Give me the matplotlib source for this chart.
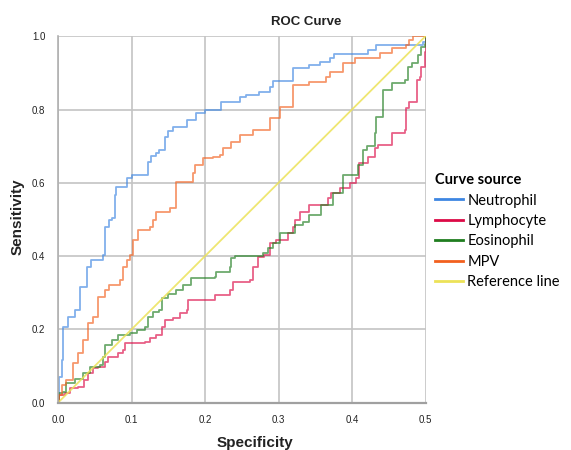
import matplotlib
matplotlib.use("Agg")
import matplotlib.pyplot as plt
from matplotlib.lines import Line2D

# ROC curves (steps: x where y jumps, new y)
neut_x = [0, 0.002, 0.006, 0.007, 0.014, 0.023, 0.030, 0.039, 0.045, 0.061, 0.064, 0.070,
          0.073, 0.077, 0.079, 0.094, 0.100, 0.122, 0.127, 0.134, 0.138, 0.145, 0.150, 0.156,
          0.175, 0.188, 0.200, 0.222, 0.247, 0.256, 0.274, 0.288, 0.293, 0.320, 0.342, 0.356,
          0.370, 0.376, 0.422, 0.433, 0.497, 0.500]
neut_y = [0, 0.071, 0.117, 0.207, 0.235, 0.253, 0.317, 0.371, 0.389, 0.403, 0.480, 0.498,
          0.503, 0.567, 0.589, 0.612, 0.621, 0.658, 0.672, 0.680, 0.690, 0.726, 0.740, 0.753,
          0.771, 0.790, 0.799, 0.821, 0.835, 0.840, 0.849, 0.862, 0.879, 0.912, 0.921, 0.929,
          0.940, 0.951, 0.961, 0.976, 0.985, 1.0]

lymph_x = [0, 0.001, 0.009, 0.016, 0.027, 0.036, 0.041, 0.048, 0.054, 0.064, 0.068, 0.082,
           0.088, 0.091, 0.118, 0.125, 0.134, 0.141, 0.145, 0.156, 0.166, 0.175, 0.177, 0.213,
           0.234, 0.238, 0.261, 0.265, 0.272, 0.280, 0.288, 0.297, 0.313, 0.320, 0.322, 0.329,
           0.342, 0.367, 0.371, 0.383, 0.397, 0.406, 0.410, 0.422, 0.431, 0.435, 0.454, 0.472,
           0.474, 0.478, 0.488, 0.492, 0.494, 0.499, 0.500]
lymph_y = [0, 0.020, 0.026, 0.039, 0.044, 0.062, 0.080, 0.094, 0.098, 0.112, 0.126, 0.135,
           0.144, 0.162, 0.166, 0.176, 0.185, 0.207, 0.226, 0.230, 0.244, 0.253, 0.280, 0.294,
           0.307, 0.330, 0.335, 0.371, 0.398, 0.403, 0.435, 0.444, 0.462, 0.480, 0.498, 0.521,
           0.539, 0.558, 0.571, 0.585, 0.599, 0.612, 0.653, 0.671, 0.694, 0.703, 0.735, 0.744,
           0.803, 0.821, 0.880, 0.890, 0.917, 0.958, 1.0]

eos_x = [0, 0.001, 0.007, 0.011, 0.023, 0.034, 0.043, 0.057, 0.061, 0.064, 0.073, 0.082,
         0.098, 0.107, 0.118, 0.122, 0.129, 0.138, 0.141, 0.150, 0.161, 0.170, 0.181, 0.213,
         0.215, 0.234, 0.236, 0.241, 0.279, 0.286, 0.293, 0.302, 0.322, 0.333, 0.342, 0.358,
         0.374, 0.388, 0.408, 0.415, 0.420, 0.431, 0.433, 0.442, 0.454, 0.472, 0.476, 0.481,
         0.490, 0.494, 0.499, 0.500]
eos_y = [0, 0.026, 0.030, 0.053, 0.066, 0.080, 0.098, 0.103, 0.126, 0.157, 0.171, 0.185,
         0.189, 0.198, 0.207, 0.235, 0.248, 0.253, 0.285, 0.297, 0.307, 0.321, 0.339, 0.344,
         0.357, 0.371, 0.394, 0.400, 0.408, 0.421, 0.435, 0.462, 0.485, 0.494, 0.512, 0.539,
         0.571, 0.621, 0.649, 0.690, 0.700, 0.735, 0.780, 0.853, 0.871, 0.880, 0.917, 0.926,
         0.949, 0.971, 0.980, 1.0]

mpv_x = [0, 0.001, 0.005, 0.011, 0.020, 0.027, 0.034, 0.041, 0.048, 0.054, 0.064, 0.070,
         0.084, 0.088, 0.094, 0.098, 0.102, 0.109, 0.125, 0.129, 0.134, 0.152, 0.161, 0.184,
         0.186, 0.197, 0.211, 0.220, 0.225, 0.236, 0.247, 0.265, 0.288, 0.302, 0.320, 0.342,
         0.365, 0.370, 0.388, 0.404, 0.438, 0.454, 0.474, 0.478, 0.483, 0.500]
mpv_y = [0, 0.020, 0.048, 0.062, 0.108, 0.135, 0.171, 0.217, 0.235, 0.289, 0.307, 0.321,
         0.335, 0.371, 0.390, 0.403, 0.444, 0.471, 0.480, 0.498, 0.521, 0.530, 0.603, 0.626,
         0.649, 0.667, 0.671, 0.676, 0.694, 0.712, 0.730, 0.744, 0.776, 0.808, 0.867, 0.876,
         0.889, 0.903, 0.926, 0.940, 0.953, 0.967, 0.976, 0.990, 1.0, 1.0]

ref_x = [0, 0.5]
ref_y = [0, 1.0]

labels = ["Neutrophil", "Lymphocyte", "Eosinophil", "MPV", "Reference line"]
colors = ["#3d86e2", "#dc0a46", "#1f7d1f", "#f2601e", "#ece258"]

fig = plt.figure(figsize=(5.71, 4.5), dpi=100)
ax = fig.add_axes([58 / 571, 47.3 / 450, 367.5 / 571, 366.5 / 450])

curves = [(neut_x, neut_y), (lymph_x, lymph_y), (eos_x, eos_y), (mpv_x, mpv_y)]
for (cx, cy), c in zip(curves, colors[:4]):
    ax.plot(cx, cy, drawstyle="steps-post", color=c, lw=1.3, alpha=0.65)
ax.plot(ref_x, ref_y, color=colors[4], lw=1.3, alpha=0.85)

ax.set_xlim(0, 0.5)
ax.set_ylim(0, 1.0)
ax.set_xticks([0, 0.1, 0.2, 0.3, 0.4, 0.5])
ax.set_yticks([0, 0.2, 0.4, 0.6, 0.8, 1.0])
ax.set_xticklabels(["0.0", "0.1", "0.2", "0.3", "0.4", "0.5"])
ax.set_yticklabels(["0.0", "0.2", "0.4", "0.6", "0.8", "1.0"])
ax.tick_params(length=0, labelsize=7, pad=9, colors="#222222")
for lab in ax.get_xticklabels() + ax.get_yticklabels():
    lab.set_family("Liberation Sans")
ax.grid(True, color="#c4c4c4", lw=1.2)
ax.set_axisbelow(True)
for s in ["top", "right"]:
    ax.spines[s].set_visible(False)
ax.spines["left"].set_color("#b0b0b0")
ax.spines["left"].set_linewidth(1.2)
ax.spines["bottom"].set_color("#a0a0a0")
ax.spines["bottom"].set_linewidth(1.6)

fig.text(306 / 571, 1 - 22 / 450, "ROC Curve", ha="center", va="center",
         fontsize=9.5, fontweight="bold", family="Liberation Sans", color="#222222")
fig.text(255 / 571, 1 - 443 / 450, "Specificity", ha="center", va="center",
         fontsize=11, fontweight="bold", family="Liberation Sans", color="#222222")
fig.text(18 / 571, 1 - 217 / 450, "Sensitivity", ha="center", va="center", rotation=90,
         fontsize=11, fontweight="bold", family="Liberation Sans", color="#222222")

handles = [Line2D([], [], color=c, lw=2) for c in colors]
leg = fig.legend(handles, labels, loc="upper left", bbox_to_anchor=(422 / 571, 1 - 160 / 450),
                 frameon=False, title="Curve source", handlelength=1.9, handletextpad=0.3,
                 labelspacing=0.44, prop={"family": "Lato", "size": 10.5},
                 title_fontproperties={"family": "Lato", "size": 10.5, "weight": "bold"})
leg._legend_box.align = "left"

fig.savefig("out.png", dpi=100)
